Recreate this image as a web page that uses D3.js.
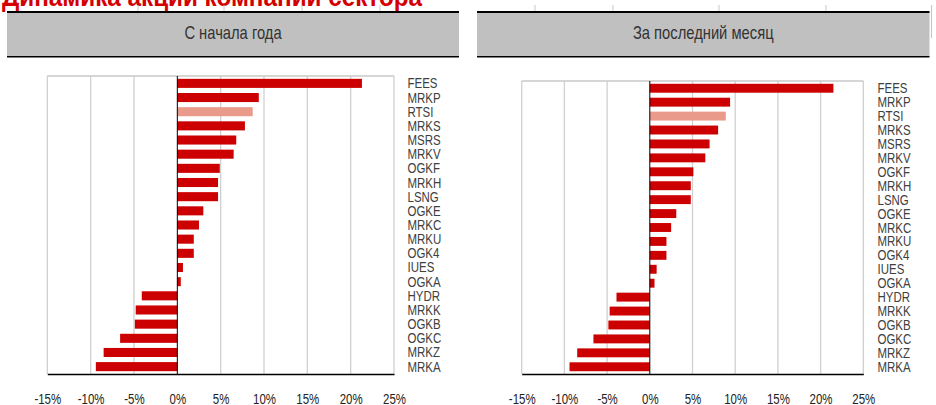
<!DOCTYPE html>
<html>
<head>
<meta charset="utf-8">
<script src="https://cdn.jsdelivr.net/npm/d3@7"></script>
<style>
  html, body { margin: 0; padding: 0; background: #fff; }
  svg { display: block; }
  text { font-family: 'Liberation Sans', Arial, sans-serif; }
</style>
</head>
<body>
<svg id="chart" width="936" height="405"></svg>
<script>
const pageTitle = "Динамика акций компаний сектора";
const panelTitles = ["С начала года", "За последний месяц"];
const categories = ["FEES","MRKP","RTSI","MRKS","MSRS","MRKV","OGKF","MRKH","LSNG","OGKE","MRKC","MRKU","OGK4","IUES","OGKA","HYDR","MRKK","OGKB","OGKC","MRKZ","MRKA"];
const ytdValues = [21.3, 9.4, 8.7, 7.8, 6.8, 6.5, 4.9, 4.7, 4.7, 3.0, 2.5, 1.9, 1.9, 0.65, 0.4, -4.1, -4.8, -4.9, -6.6, -8.5, -9.4];
const monthValues = [21.5, 9.4, 8.9, 8.0, 7.0, 6.5, 5.1, 4.8, 4.8, 3.1, 2.5, 1.95, 1.95, 0.8, 0.55, -3.9, -4.7, -4.85, -6.6, -8.5, -9.4];
const tickValues = [-15, -10, -5, 0, 5, 10, 15, 20, 25];
const highlight = "RTSI";
const NARROW = 0.82;

const svg = d3.select("#chart");

// page title (mostly cut off at top)
svg.append("text")
  .attr("transform", `translate(2,6) scale(${NARROW},1)`)
  .attr("fill", "#d40000")
  .attr("font-weight", "bold")
  .attr("font-size", 27)
  .attr("textLength", 420 / NARROW)
  .attr("lengthAdjust", "spacingAndGlyphs")
  .text(pageTitle);

// small grey tick marks above header (table remnants)
const topTicks = [138, 224, 302, 380, 535, 613, 719, 826];
svg.selectAll(".tt").data(topTicks).enter().append("line")
  .attr("x1", d => d).attr("x2", d => d).attr("y1", 5).attr("y2", 11)
  .attr("stroke", "#c8c8c8").attr("stroke-width", 1);
svg.append("line").attr("x1", 931.5).attr("x2", 931.5).attr("y1", 5).attr("y2", 38)
  .attr("stroke", "#c8c8c8").attr("stroke-width", 1.2);

const panels = [
  { title: panelTitles[0], values: ytdValues, hx0: 7, hx1: 459, x0: 47.3, x1: 394, y0: 76, y1: 374, lx: 407.5 },
  { title: panelTitles[1], values: monthValues, hx0: 477, hx1: 929.5, x0: 521.7, x1: 863.3, y0: 81, y1: 374, lx: 877.5 }
];

panels.forEach(p => {
  const g = svg.append("g");
  // header band
  g.append("rect").attr("x", p.hx0).attr("y", 12).attr("width", p.hx1 - p.hx0).attr("height", 45)
    .attr("fill", "#c0c0c0");
  g.append("line").attr("x1", p.hx0).attr("x2", p.hx1).attr("y1", 12).attr("y2", 12)
    .attr("stroke", "#000").attr("stroke-width", 1.8);
  g.append("line").attr("x1", p.hx0).attr("x2", p.hx1).attr("y1", 56.8).attr("y2", 56.8)
    .attr("stroke", "#000").attr("stroke-width", 1.6);
  g.append("text")
    .attr("transform", `translate(${(p.hx0 + p.hx1) / 2},38.5) scale(${NARROW},1)`)
    .attr("text-anchor", "middle").attr("font-size", 18).attr("fill", "#333")
    .text(p.title);

  const x = d3.scaleLinear().domain([-15, 25]).range([p.x0, p.x1]);
  const y = d3.scaleBand().domain(categories).range([p.y0, p.y1]).paddingInner(0.36).paddingOuter(0.2);

  // gridlines
  g.selectAll(".grid").data(tickValues.filter(t => t !== 0)).enter().append("line")
    .attr("x1", d => x(d)).attr("x2", d => x(d)).attr("y1", p.y0).attr("y2", p.y1)
    .attr("stroke", "#d0d0d0").attr("stroke-width", 1.3);
  // top border
  g.append("line").attr("x1", p.x0).attr("x2", p.x1).attr("y1", p.y0).attr("y2", p.y0)
    .attr("stroke", "#c8c8c8").attr("stroke-width", 1.3);

  // bars
  g.selectAll(".bar").data(categories).enter().append("rect")
    .attr("x", (d, i) => x(Math.min(0, p.values[i])))
    .attr("width", (d, i) => Math.abs(x(p.values[i]) - x(0)))
    .attr("y", d => y(d))
    .attr("height", y.bandwidth())
    .attr("fill", d => d === highlight ? "#e99a8a" : "#cc0000");

  // zero line
  g.append("line").attr("x1", x(0)).attr("x2", x(0)).attr("y1", p.y0).attr("y2", p.y1)
    .attr("stroke", "#000").attr("stroke-width", 1);

  // bottom axis
  const axis = d3.axisBottom(x).tickValues(tickValues).tickSize(0).tickPadding(0)
    .tickFormat(d => d + "%");
  const ax = g.append("g").attr("transform", `translate(0,${p.y1})`).call(axis);
  ax.select(".domain").attr("stroke", "#000").attr("stroke-width", 1.5);
  ax.selectAll("text").attr("font-size", 14).attr("fill", "#222").attr("dy", 0).attr("y", 0)
    .attr("transform", `translate(0,30) scale(${NARROW},1)`)
    .attr("font-family", "'Liberation Sans', Arial, sans-serif");

  // category labels at right
  g.selectAll(".lab").data(categories).enter().append("text")
    .attr("transform", d => `translate(${p.lx},${y(d) + y.bandwidth() / 2 + 5}) scale(${NARROW},1)`)
    .attr("font-size", 14).attr("fill", "#404040")
    .text(d => d);
});
</script>
</body>
</html>
